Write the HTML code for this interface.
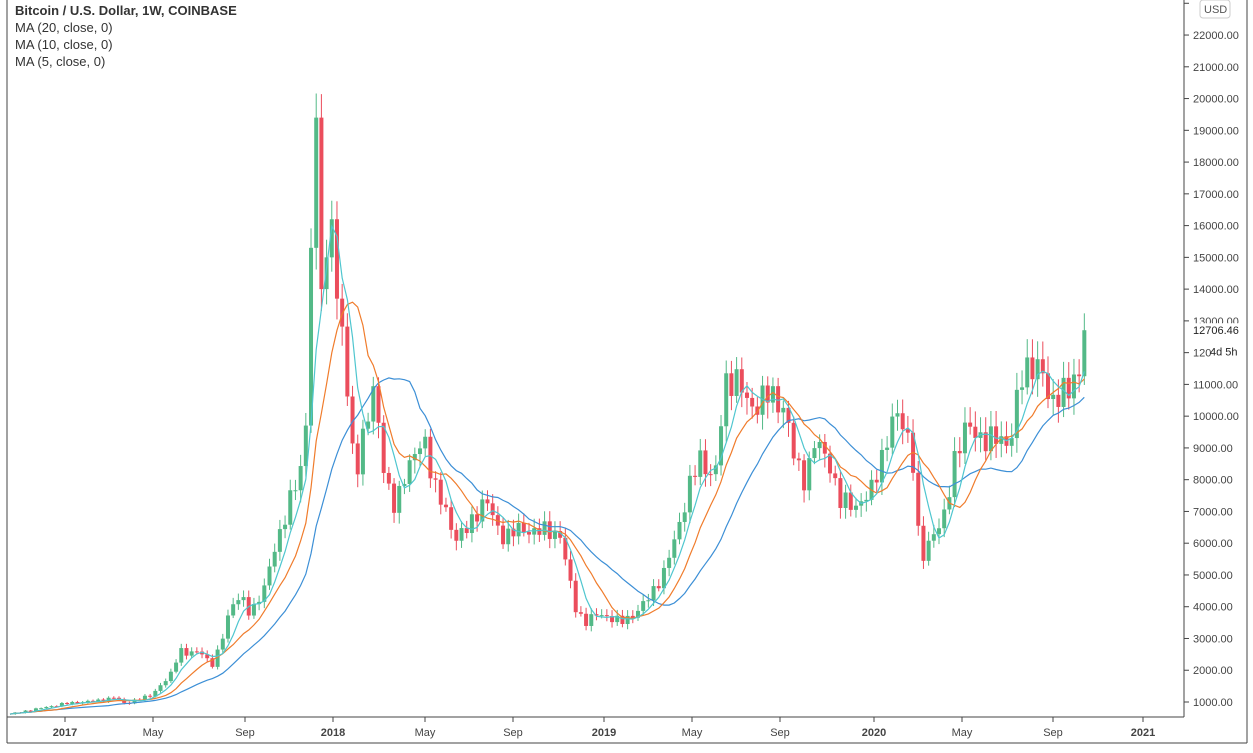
<!DOCTYPE html><html><head><meta charset="utf-8"><style>
body{margin:0;background:#fff;font-family:"Liberation Sans",sans-serif}
svg text{font-family:"Liberation Sans",sans-serif}
</style></head><body>
<svg id="s" width="1253" height="748" xmlns="http://www.w3.org/2000/svg">
<rect x="0" y="0" width="1253" height="748" fill="#fff"/>
<line x1="7" y1="0" x2="7" y2="743" stroke="#444"/>
<line x1="7" y1="743" x2="1247" y2="743" stroke="#444"/>
<line x1="1247" y1="0" x2="1247" y2="743" stroke="#444"/>
<line x1="7" y1="717" x2="1184" y2="717" stroke="#444"/>
<line x1="1184" y1="0" x2="1184" y2="717" stroke="#444"/>
<g id="g"></g>
<text x="15" y="15" font-size="13" font-weight="bold" fill="#333">Bitcoin / U.S. Dollar, 1W, COINBASE</text>
<text x="15" y="32" font-size="13" fill="#333">MA (20, close, 0)</text>
<text x="15" y="49" font-size="13" fill="#333">MA (10, close, 0)</text>
<text x="15" y="66" font-size="13" fill="#333">MA (5, close, 0)</text>
</svg>
<script>
var g=document.getElementById('g'),h='';
function Y(p){return 702-(p-1000)*0.03176;}
for(var p=1000;p<=23000;p+=1000){var y=Y(p);if(y<0)continue;
h+='<line x1="1184" y1="'+y+'" x2="1189" y2="'+y+'" stroke="#444"/>';
if(p!=12000&&p!=13000&&p!=23000)h+='<text x="1193" y="'+(y+4)+'" font-size="11" fill="#444">'+p+'.00</text>';}
h+='<text x="1193" y="'+(Y(13000)+4)+'" font-size="11" fill="#444">13000.00</text>';
h+='<rect x="1187" y="'+(Y(12706)-7)+'" width="56" height="14" fill="#fff"/><text x="1193" y="'+(Y(12706)+4)+'" font-size="11" fill="#222">12706.46</text>';
h+='<text x="1193" y="'+(Y(12000)+4)+'" font-size="11" fill="#444">120</text><text x="1210" y="'+(Y(12000)+3)+'" font-size="11" fill="#222">4d 5h</text>';
h+='<rect x="1200" y="0" width="30" height="18" rx="3" fill="#fff" stroke="#ccc"/><text x="1204" y="13" font-size="11" fill="#555">USD</text>';
var xl=[[65,'2017',1],[153,'May',0],[245,'Sep',0],[333,'2018',1],[425,'May',0],[513,'Sep',0],[604,'2019',1],[692,'May',0],[780,'Sep',0],[874,'2020',1],[962,'May',0],[1053,'Sep',0],[1143,'2021',1]];
xl.forEach(function(a){h+='<line x1="'+a[0]+'" y1="717" x2="'+a[0]+'" y2="722" stroke="#444"/><text x="'+a[0]+'" y="736" text-anchor="middle" font-size="11" '+(a[2]?'font-weight="bold" ':'')+'fill="#444">'+a[1]+'</text>';});
var A=[[10,620],[65,950],[100,1050],[115,1150],[125,950],[150,1200],[170,1800],[180,2700],[185,2500],[205,2600],[210,2000],[220,2700],[230,4000],[240,4300],[250,3800],[265,4600],[275,5900],[290,7300],[300,8200],[310,11000],[315,15000],[320,19200],[325,14000],[330,14500],[335,16000],[340,13500],[345,11500],[355,8200],[365,9500],[375,11000],[385,8000],[395,7000],[405,8300],[425,9200],[435,7800],[455,6200],[470,6500],[485,7500],[500,6200],[515,6400],[540,6400],[560,6300],[565,5500],[575,4000],[585,3500],[600,3800],[620,3500],[640,3900],[665,5100],[690,7800],[700,8700],[715,8000],[725,11000],[735,11300],[750,10200],[765,10700],[785,10300],[795,8500],[805,8000],[815,9200],[830,8500],[840,7300],[855,7200],[870,7500],[880,8600],[895,10000],[905,9800],[915,8200],[920,5200],[930,6200],[945,6800],[955,8800],[965,9600],[985,9300],[1010,9200],[1020,11000],[1030,11700],[1040,11600],[1050,10300],[1060,10900],[1070,10700],[1080,11500],[1085,12706]];
function val(x){for(var i=1;i<A.length;i++){if(x<=A[i][0]){var a=A[i-1],b=A[i];return a[1]+(b[1]-a[1])*(x-a[0])/(b[0]-a[0]);}}return A[A.length-1][1];}
var N=Math.round((1085-10)/5.19),C=[],X=[];
for(var i=0;i<=N;i++){var x=10+i*5.19;X.push(x);var v=val(x);var n=Math.sin(i*2.7)*0.035+Math.sin(i*1.3)*0.015;C.push(i==N?12706:v*(1+n));}
C[58]=15300;C[59]=19400;C[60]=14000;C[61]=15000;C[62]=16200;C[63]=13700;
var c='';
for(var i=1;i<=N;i++){var o=C[i-1],cl=C[i],up=cl>=o,col=up?'#53b987':'#eb4d5c';
var hi=Math.max(o,cl)*(1+0.02+0.03*Math.abs(Math.sin(i*3.1))),lo=Math.min(o,cl)*(1-0.02-0.03*Math.abs(Math.cos(i*2.3)));
var x=X[i];c+='<line x1="'+x+'" y1="'+Y(hi)+'" x2="'+x+'" y2="'+Y(lo)+'" stroke="'+col+'" stroke-width="1"/>';
var t=Y(Math.max(o,cl)),bh=Math.max(1,Y(Math.min(o,cl))-t);
c+='<rect x="'+(x-2)+'" y="'+t+'" width="4" height="'+bh+'" fill="'+col+'"/>';}
function ma(n,col){var pts=[];for(var i=0;i<=N;i++){var s=0,k=0;for(var j=Math.max(0,i-n+1);j<=i;j++){s+=C[j];k++;}pts.push(X[i].toFixed(1)+','+Y(s/k).toFixed(1));}
return '<polyline points="'+pts.join(' ')+'" fill="none" stroke="'+col+'" stroke-width="1.2"/>';}
c+=ma(20,'#3c8fd6')+ma(10,'#f07c2c')+ma(5,'#4fc6cf');
g.innerHTML=h+c;
</script>
</body></html>
